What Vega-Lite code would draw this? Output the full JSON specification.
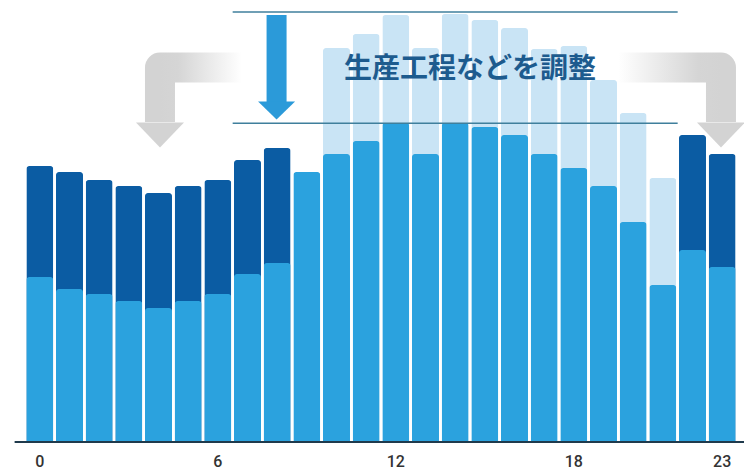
{
  "$schema": "https://vega.github.io/schema/vega-lite/v6.json",
  "autosize": {"type": "none"},
  "padding": {"left": 25, "top": 12, "right": 7, "bottom": 31},
  "width": 712,
  "height": 430,
  "background": "white",
  "config": {"view": {"stroke": null}},
  "datasets": {
    "bars": [
      {"hour": 0, "light": 165, "total": 276, "pale": null},
      {"hour": 1, "light": 153, "total": 270, "pale": null},
      {"hour": 2, "light": 148, "total": 262, "pale": null},
      {"hour": 3, "light": 141, "total": 256, "pale": null},
      {"hour": 4, "light": 134, "total": 249, "pale": null},
      {"hour": 5, "light": 141, "total": 256, "pale": null},
      {"hour": 6, "light": 148, "total": 262, "pale": null},
      {"hour": 7, "light": 168, "total": 282, "pale": null},
      {"hour": 8, "light": 179, "total": 294, "pale": null},
      {"hour": 9, "light": 270, "total": null, "pale": null},
      {"hour": 10, "light": 288, "total": null, "pale": 394},
      {"hour": 11, "light": 301, "total": null, "pale": 408},
      {"hour": 12, "light": 319, "total": null, "pale": 427},
      {"hour": 13, "light": 288, "total": null, "pale": 394},
      {"hour": 14, "light": 319, "total": null, "pale": 428},
      {"hour": 15, "light": 315, "total": null, "pale": 422},
      {"hour": 16, "light": 307, "total": null, "pale": 414},
      {"hour": 17, "light": 288, "total": null, "pale": 393},
      {"hour": 18, "light": 274, "total": null, "pale": 396},
      {"hour": 19, "light": 256, "total": null, "pale": 362},
      {"hour": 20, "light": 220, "total": null, "pale": 329},
      {"hour": 21, "light": 157, "total": null, "pale": 264},
      {"hour": 22, "light": 192, "total": 307, "pale": null},
      {"hour": 23, "light": 175, "total": 288, "pale": null}
    ],
    "hlines": [{"x": 7, "x2": 22, "y": 430}, {"x": 7, "x2": 22, "y": 318.7}],
    "base": [{"x": -0.35, "x2": 24.25, "y": 0}],
    "leftArrow": [{"i": 0, "x": 7.3, "y": 374.5}, {"i": 1, "x": 4.55, "y": 374.5}, {"i": 2, "x": 4.55, "y": 320}],
    "rightArrow": [{"i": 0, "x": 20.0, "y": 374.5}, {"i": 1, "x": 23.46, "y": 374.5}, {"i": 2, "x": 23.46, "y": 320}],
    "greyHeads": [{"x": 4.55, "y": 307}, {"x": 23.46, "y": 307}],
    "downShaft": [{"x": 8.48, "y": 427, "y2": 340}],
    "downHead": [{"x": 8.48, "y": 331.5}],
    "label": [{"x": 15, "y": 372, "text": "生産工程などを調整"}]
  },
  "layer": [
    {
      "layer": [
        {
          "data": {"name": "bars"},
          "mark": {"type": "bar", "color": "#c9e4f5", "cornerRadiusTopLeft": 3, "cornerRadiusTopRight": 3},
          "encoding": {
            "x": {"field": "hour", "type": "ordinal", "scale": {"paddingInner": 0.09, "paddingOuter": 0.045},
                  "axis": {"values": [0, 6, 12, 18, 23], "labelAngle": 0, "ticks": false, "domain": false, "grid": false, "title": null,
                           "labelFont": "Roboto", "labelFontSize": 16, "labelFontWeight": 500, "labelColor": "#333333", "labelPadding": 11}},
            "y": {"field": "pale", "type": "quantitative", "scale": {"domain": [0, 430], "nice": false}, "axis": null}
          }
        },
        {
          "data": {"name": "bars"},
          "mark": {"type": "bar", "color": "#0b5ca3", "cornerRadiusTopLeft": 3, "cornerRadiusTopRight": 3},
          "encoding": {
            "x": {"field": "hour", "type": "ordinal"},
            "y": {"field": "total", "type": "quantitative", "scale": {"domain": [0, 430], "nice": false}, "axis": null}
          }
        },
        {
          "data": {"name": "bars"},
          "mark": {"type": "bar", "color": "#2ba2de", "cornerRadiusTopLeft": 3, "cornerRadiusTopRight": 3},
          "encoding": {
            "x": {"field": "hour", "type": "ordinal"},
            "y": {"field": "light", "type": "quantitative", "scale": {"domain": [0, 430], "nice": false}, "axis": null}
          }
        }
      ]
    },
    {
      "layer": [
        {
          "data": {"name": "hlines"},
          "mark": {"type": "rule", "color": "#3f7f9c", "strokeWidth": 1.5},
          "encoding": {
            "x": {"field": "x", "type": "quantitative", "scale": {"domain": [0, 24], "nice": false, "zero": false}, "axis": null},
            "x2": {"field": "x2"},
            "y": {"field": "y", "type": "quantitative", "scale": {"domain": [0, 430], "nice": false}, "axis": null}
          }
        },
        {
          "data": {"name": "leftArrow"},
          "mark": {"type": "line", "strokeWidth": 30, "strokeJoin": "round", "strokeCap": "butt",
                   "stroke": {"gradient": "linear", "x1": 0, "y1": 0, "x2": 1, "y2": 0,
                              "stops": [{"offset": 0, "color": "#d3d3d3"}, {"offset": 0.22, "color": "#d5d5d5"}, {"offset": 1, "color": "#ffffff"}]}},
          "encoding": {
            "x": {"field": "x", "type": "quantitative"},
            "y": {"field": "y", "type": "quantitative"},
            "order": {"field": "i", "type": "quantitative"}
          }
        },
        {
          "data": {"name": "rightArrow"},
          "mark": {"type": "line", "strokeWidth": 30, "strokeJoin": "round", "strokeCap": "butt",
                   "stroke": {"gradient": "linear", "x1": 0, "y1": 0, "x2": 1, "y2": 0,
                              "stops": [{"offset": 0, "color": "#ffffff"}, {"offset": 0.78, "color": "#d5d5d5"}, {"offset": 1, "color": "#d3d3d3"}]}},
          "encoding": {
            "x": {"field": "x", "type": "quantitative"},
            "y": {"field": "y", "type": "quantitative"},
            "order": {"field": "i", "type": "quantitative"}
          }
        },
        {
          "data": {"name": "greyHeads"},
          "mark": {"type": "point", "shape": "M-1,-0.52L1,-0.52L0,0.52Z", "size": 2304, "filled": true, "opacity": 1, "color": "#d3d3d3", "strokeWidth": 0},
          "encoding": {
            "x": {"field": "x", "type": "quantitative"},
            "y": {"field": "y", "type": "quantitative"}
          }
        },
        {
          "data": {"name": "downShaft"},
          "mark": {"type": "rule", "color": "#2b9ad9", "strokeWidth": 20, "strokeCap": "butt"},
          "encoding": {
            "x": {"field": "x", "type": "quantitative"},
            "y": {"field": "y", "type": "quantitative"},
            "y2": {"field": "y2"}
          }
        },
        {
          "data": {"name": "downHead"},
          "mark": {"type": "point", "shape": "M-1,-0.49L1,-0.49L0,0.49Z", "size": 1369, "filled": true, "opacity": 1, "color": "#2b9ad9", "strokeWidth": 0},
          "encoding": {
            "x": {"field": "x", "type": "quantitative"},
            "y": {"field": "y", "type": "quantitative"}
          }
        },
        {
          "data": {"name": "label"},
          "mark": {"type": "text", "font": "Noto Sans CJK JP", "fontSize": 28, "fontWeight": "bold", "color": "#1d5b8e", "align": "center", "baseline": "middle"},
          "encoding": {
            "x": {"field": "x", "type": "quantitative"},
            "y": {"field": "y", "type": "quantitative"},
            "text": {"field": "text"}
          }
        },
        {
          "data": {"name": "base"},
          "mark": {"type": "rule", "color": "#1f3a4c", "strokeWidth": 2},
          "encoding": {
            "x": {"field": "x", "type": "quantitative"},
            "x2": {"field": "x2"},
            "y": {"field": "y", "type": "quantitative"}
          }
        }
      ]
    }
  ],
  "resolve": {"scale": {"x": "independent"}}
}
